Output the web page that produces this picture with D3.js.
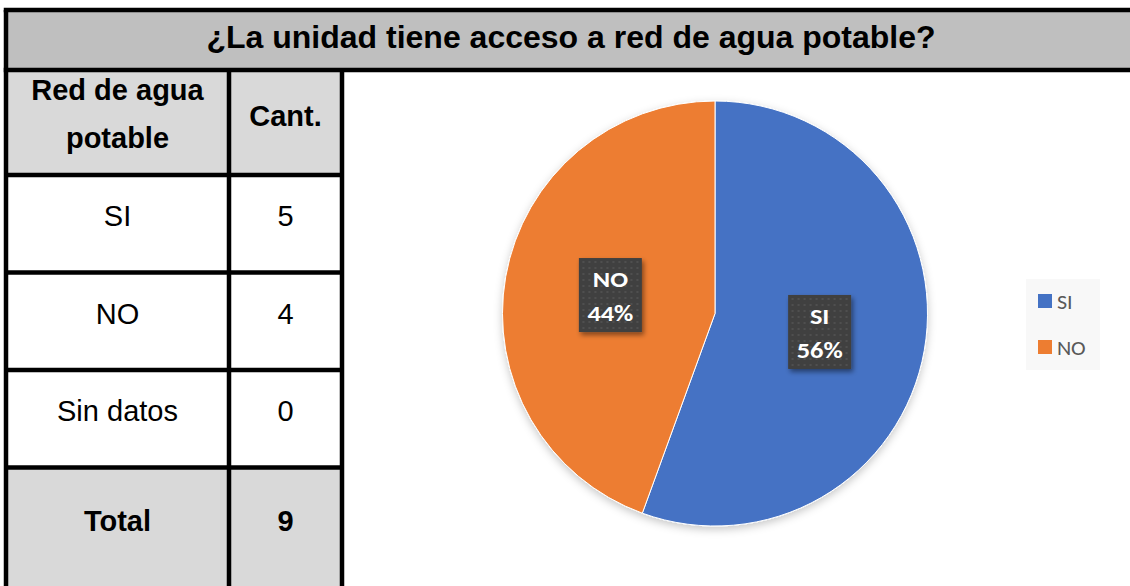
<!DOCTYPE html>
<html>
<head>
<meta charset="utf-8">
<script src="https://cdn.jsdelivr.net/npm/d3@7"></script>
<style>
  body { margin: 0; background: #fff; }
  svg { display: block; }
</style>
</head>
<body>
<svg id="chart" width="1130" height="586"></svg>
<script>
// data
const title = '¿La unidad tiene acceso a red de agua potable?';
const headers = [['Red de agua', 'potable'], ['Cant.']];
const categories = ['SI', 'NO', 'Sin datos'];
const counts = [5, 4, 0];
const totalLabel = 'Total';
const colors = ['#4472c4', '#ed7d31', '#a5a5a5'];

const total = d3.sum(counts);
const width = 1130, height = 586;
const svg = d3.select('#chart');

const tableFont = '"Liberation Sans", Arial, sans-serif';
const chartFont = 'Carlito, Lato, "Open Sans", sans-serif';

// table grid positions
const colX = [6, 229, 342];
const rowY = [10, 70, 175, 272.5, 370, 467.5, 600];

// --- backgrounds
svg.append('rect')
  .attr('x', colX[0]).attr('y', rowY[0])
  .attr('width', width - colX[0]).attr('height', rowY[1] - rowY[0])
  .attr('fill', '#bfbfbf');

const grayRows = [1, 5]; // header and total
grayRows.forEach(r => {
  svg.append('rect')
    .attr('x', colX[0]).attr('y', rowY[r])
    .attr('width', colX[2] - colX[0]).attr('height', rowY[r + 1] - rowY[r])
    .attr('fill', '#d9d9d9');
});

// --- title
svg.append('text')
  .attr('x', 571).attr('y', 48)
  .attr('text-anchor', 'middle')
  .attr('font-family', tableFont)
  .attr('font-weight', 'bold')
  .attr('font-size', 32)
  .attr('fill', '#000')
  .text(title);

// --- header cells
const colCenter = i => (colX[i] + colX[i + 1]) / 2;
headers.forEach((lines, i) => {
  const t = svg.append('text')
    .attr('text-anchor', 'middle')
    .attr('font-family', tableFont)
    .attr('font-weight', 'bold')
    .attr('font-size', 29)
    .attr('fill', '#000');
  const base = lines.length > 1 ? 100 : 126;
  lines.forEach((l, j) => {
    t.append('tspan').attr('x', colCenter(i)).attr('y', base + j * 48).text(l);
  });
});

// --- body rows
const rows = categories.map((c, i) => ({ label: c, value: counts[i] }));
const body = svg.selectAll('g.row')
  .data(rows)
  .enter().append('g')
  .attr('class', 'row');

body.append('text')
  .attr('x', colCenter(0))
  .attr('y', (d, i) => rowY[i + 2] + 51)
  .attr('text-anchor', 'middle')
  .attr('font-family', tableFont)
  .attr('font-size', 29)
  .text(d => d.label);

body.append('text')
  .attr('x', colCenter(1))
  .attr('y', (d, i) => rowY[i + 2] + 51)
  .attr('text-anchor', 'middle')
  .attr('font-family', tableFont)
  .attr('font-size', 29)
  .text(d => d.value);

// total row
[totalLabel, total].forEach((v, i) => {
  svg.append('text')
    .attr('x', colCenter(i)).attr('y', rowY[5] + 63)
    .attr('text-anchor', 'middle')
    .attr('font-family', tableFont)
    .attr('font-weight', 'bold')
    .attr('font-size', 29)
    .text(v);
});

// --- grid lines
const lw = 4.5;
const line = (x1, y1, x2, y2) => svg.append('line')
  .attr('x1', x1).attr('y1', y1).attr('x2', x2).attr('y2', y2)
  .attr('stroke', '#000').attr('stroke-width', lw);

line(colX[0] - lw / 2, rowY[0], width, rowY[0]);
line(colX[0] - lw / 2, rowY[1], width, rowY[1]);
line(colX[0], rowY[0], colX[0], height);
line(colX[1], rowY[1], colX[1], height);
line(colX[2], rowY[1], colX[2], height);
for (let r = 2; r <= 5; r++) line(colX[0], rowY[r], colX[2], rowY[r]);

// --- pie chart
const defs = svg.append('defs');
const shadow = defs.append('filter').attr('id', 'shadow')
  .attr('x', '-20%').attr('y', '-20%').attr('width', '140%').attr('height', '140%');
shadow.append('feDropShadow')
  .attr('dx', 0).attr('dy', 3).attr('stdDeviation', 4)
  .attr('flood-color', '#000').attr('flood-opacity', 0.22);

const boxShadow = defs.append('filter').attr('id', 'boxShadow')
  .attr('x', '-30%').attr('y', '-30%').attr('width', '160%').attr('height', '160%');
boxShadow.append('feDropShadow')
  .attr('dx', 2).attr('dy', 3).attr('stdDeviation', 2.5)
  .attr('flood-color', '#000').attr('flood-opacity', 0.45);

const dots = defs.append('pattern').attr('id', 'dots')
  .attr('width', 6).attr('height', 6).attr('patternUnits', 'userSpaceOnUse');
dots.append('rect').attr('width', 6).attr('height', 6).attr('fill', '#404040');
dots.append('circle').attr('cx', 3).attr('cy', 3).attr('r', 0.9).attr('fill', '#575757');

const pieData = rows.map((d, i) => ({ ...d, color: colors[i] })).filter(d => d.value > 0);
const cx = 715, cy = 313.5, radius = 212.5;

const pie = d3.pie().value(d => d.value).sort(null);
const arc = d3.arc().innerRadius(0).outerRadius(radius);

const pg = svg.append('g').attr('transform', `translate(${cx},${cy})`);
pg.append('g').attr('filter', 'url(#shadow)')
  .selectAll('path')
  .data(pie(pieData))
  .enter().append('path')
  .attr('d', arc)
  .attr('fill', d => d.data.color)
  .attr('stroke', '#fff')
  .attr('stroke-width', 1);

const fmt = d3.format('.0%');
const boxW = 63, boxH = 74;
const lab = pg.selectAll('g.lab')
  .data(pie(pieData))
  .enter().append('g')
  .attr('class', 'lab')
  .attr('transform', d => `translate(${arc.centroid(d)})`);

lab.append('rect')
  .attr('x', -boxW / 2).attr('y', -boxH / 2)
  .attr('width', boxW).attr('height', boxH)
  .attr('fill', 'url(#dots)')
  .attr('filter', 'url(#boxShadow)');

const lt = lab.append('text')
  .attr('text-anchor', 'middle')
  .attr('font-family', chartFont)
  .attr('font-weight', 'bold')
  .attr('font-size', 22)
  .attr('fill', '#fff')
  .attr('transform', 'scale(1.2,1)');
lt.append('tspan').attr('x', 0).attr('y', -8).text(d => d.data.label);
lt.append('tspan').attr('x', 0).attr('y', 26).text(d => fmt(d.data.value / total));

// --- legend
const legend = svg.append('g').attr('transform', 'translate(1026,279)');
legend.append('rect')
  .attr('width', 74).attr('height', 91)
  .attr('fill', '#f8f8f8');

const li = legend.selectAll('g.item')
  .data(pieData)
  .enter().append('g')
  .attr('class', 'item')
  .attr('transform', (d, i) => `translate(12,${22 + i * 46})`);

li.append('rect')
  .attr('x', 0).attr('y', -7)
  .attr('width', 14).attr('height', 14)
  .attr('fill', d => d.color);

li.append('text')
  .attr('x', 18).attr('y', 8)
  .attr('font-family', chartFont)
  .attr('font-size', 21)
  .attr('fill', '#595959')
  .attr('transform', 'scale(1.05,1)')
  .text(d => d.label);
</script>
</body>
</html>
